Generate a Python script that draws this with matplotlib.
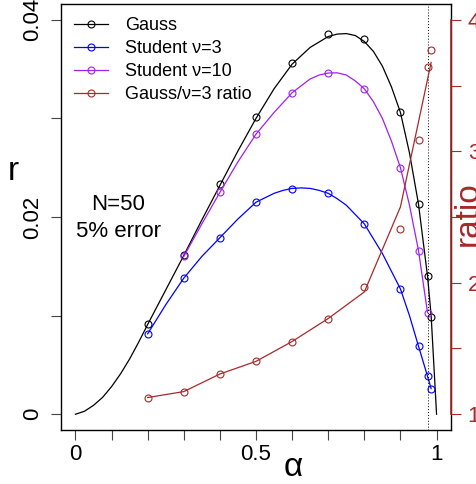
import matplotlib
matplotlib.use('Agg')
from matplotlib import pyplot as plt
from matplotlib.lines import Line2D

plt.rcParams['font.family'] = ['Liberation Sans', 'DejaVu Sans']

# measured points
alpha_pts = [0.2, 0.3, 0.4, 0.5, 0.6, 0.7, 0.8, 0.9, 0.95, 0.975, 0.985]
gauss_pts = [0.0092, 0.0161, 0.0233, 0.0301, 0.0356, 0.0386, 0.0381, 0.0306, 0.0213, 0.0140, 0.0099]
t3_pts = [0.00815, 0.0138, 0.0179, 0.0215, 0.0228, 0.0224, 0.0193, 0.0127, 0.0069, 0.00385, 0.0026]
alpha_t10 = [0.3, 0.4, 0.5, 0.6, 0.7, 0.8, 0.9, 0.95, 0.975]
t10_pts = [0.0160, 0.0225, 0.0284, 0.0326, 0.0346, 0.0330, 0.0250, 0.0166, 0.0103]
ratio_pts = [1.127, 1.172, 1.306, 1.402, 1.553, 1.728, 1.970, 2.408, 3.085, 3.644, 3.767]

# curves
alpha_gc = [0, 0.025, 0.05, 0.075, 0.1, 0.125, 0.15, 0.175, 0.2, 0.25, 0.3, 0.35, 0.4, 0.45,
            0.5, 0.55, 0.6, 0.65, 0.7, 0.725, 0.75, 0.775, 0.8, 0.825, 0.85, 0.875, 0.9,
            0.925, 0.95, 0.975, 0.985, 1.0]
gauss_curve = [0, 0.0003, 0.0009, 0.0017, 0.0028, 0.0041, 0.0056, 0.0073, 0.0091, 0.0126,
               0.0161, 0.0197, 0.0232, 0.0267, 0.0300, 0.0330, 0.0355, 0.0372, 0.0383,
               0.03855, 0.0386, 0.0384, 0.0378, 0.0368, 0.0353, 0.0332, 0.0306, 0.0265,
               0.0213, 0.0140, 0.0100, 0.0]
alpha_t3c = [0.2, 0.25, 0.3, 0.35, 0.4, 0.45, 0.5, 0.55, 0.575, 0.6, 0.625, 0.65, 0.675, 0.7,
             0.725, 0.75, 0.8, 0.85, 0.9, 0.925, 0.95, 0.975, 0.985]
t3_curve = [0.00815, 0.0111, 0.0138, 0.0160, 0.0179, 0.0198, 0.0215, 0.0224, 0.0227, 0.0229,
            0.02295, 0.0229, 0.0227, 0.0224, 0.02185, 0.0212, 0.0193, 0.0163, 0.0127, 0.0100,
            0.0069, 0.00385, 0.0026]
alpha_t10c = [0.3, 0.35, 0.4, 0.45, 0.5, 0.55, 0.6, 0.65, 0.675, 0.7, 0.725, 0.75, 0.775,
              0.8, 0.825, 0.85, 0.875, 0.9, 0.925, 0.95, 0.975]
t10_curve = [0.0160, 0.0193, 0.0225, 0.0256, 0.0284, 0.0306, 0.0326, 0.0340, 0.0344, 0.0346,
             0.03462, 0.0344, 0.0338, 0.0330, 0.0317, 0.0300, 0.0277, 0.0250, 0.0212, 0.0166,
             0.0103]
alpha_rl = [0.2, 0.3, 0.4, 0.5, 0.6, 0.7, 0.8, 0.9, 0.985]
ratio_line = [1.127, 1.172, 1.306, 1.402, 1.553, 1.728, 1.93, 2.577, 3.676]

purple = '#a020f0'
brown = '#a52a2a'
ms = 5
mew = 0.8
lw = 0.9

fig = plt.figure(figsize=(4.76, 4.84), dpi=100)
ax = fig.add_axes([61/476, 1-430/484, 390/476, 426/484])

ax.plot(alpha_gc, gauss_curve, color='black', lw=lw)
ax.plot(alpha_pts, gauss_pts, 'o', mfc='none', mec='black', ms=ms, mew=mew)
ax.plot(alpha_t3c, t3_curve, color='blue', lw=lw)
ax.plot(alpha_pts, t3_pts, 'o', mfc='none', mec='blue', ms=ms, mew=mew)
ax.plot(alpha_t10c, t10_curve, color=purple, lw=lw)
ax.plot(alpha_t10, t10_pts, 'o', mfc='none', mec=purple, ms=ms, mew=mew)
ax.axvline(0.975, color='black', ls=(0, (1, 2)), lw=0.7)

ax.set_xlim(-0.04, 1.04)
ax.set_ylim(-0.0016, 0.0416)
xt = [i / 10 for i in range(11)]
ax.set_xticks(xt)
ax.set_xticklabels(['0', '', '', '', '', '0.5', '', '', '', '', '1'])
yt = [0, 0.01, 0.02, 0.03, 0.04]
ax.set_yticks(yt)
ax.set_yticklabels(['0', '', '0.02', '', '0.04'], rotation=90, va='center')
ax.tick_params(direction='out', length=7, width=0.8, color='#444444', labelsize=16)
ax.tick_params(axis='x', pad=3)
ax.tick_params(axis='y', pad=6)
for s in ax.spines.values():
    s.set_linewidth(1.0)

ax.text(0.118, 0.0199, 'N=50\n5% error', ha='center', va='center', fontsize=16,
        linespacing=1.35)

ax2 = ax.twinx()
ax2.plot(alpha_rl, ratio_line, color=brown, lw=lw)
ax2.plot(alpha_pts, ratio_pts, 'o', mfc='none', mec=brown, ms=ms, mew=mew)
ax2.set_ylim(0.88, 4.12)
ax2.set_yticks([1, 1.5, 2, 2.5, 3, 3.5, 4])
ax2.set_yticklabels(['1', '', '2', '', '3', '', '4'])
ax2.tick_params(direction='out', length=7, width=0.8, colors=brown, labelsize=16, pad=5)
ax2.spines['right'].set_bounds(1, 4)
ax2.spines['right'].set_color(brown)
ax2.spines['right'].set_linewidth(1.2)
for k in ['left', 'top', 'bottom']:
    ax2.spines[k].set_visible(False)

handles = [
    Line2D([], [], color='black', lw=lw, marker='o', mfc='none', mec='black', ms=ms, mew=mew),
    Line2D([], [], color='blue', lw=lw, marker='o', mfc='none', mec='blue', ms=ms, mew=mew),
    Line2D([], [], color=purple, lw=lw, marker='o', mfc='none', mec=purple, ms=ms, mew=mew),
    Line2D([], [], color=brown, lw=lw, marker='o', mfc='none', mec=brown, ms=ms, mew=mew),
]
labels = ['Gauss', 'Student \u03bd=3', 'Student \u03bd=10', 'Gauss/\u03bd=3 ratio']
fig.legend(handles, labels, loc='upper left', bbox_to_anchor=(74/476, 1-17/484),
           frameon=False, fontsize=13, handlelength=1.9, handletextpad=0.95,
           labelspacing=0.33, borderpad=0, borderaxespad=0)

fig.text(13/476, 1-172/484, 'r', ha='center', va='center', fontsize=24)
fig.text(293/476, 0.016, '\u03b1', ha='center', va='baseline', fontsize=24)
fig.text(477/476, 1-214/484, 'ratio', rotation=90, rotation_mode='anchor',
         ha='center', va='baseline', fontsize=24, color=brown)

fig.savefig('out.png', dpi=100)
